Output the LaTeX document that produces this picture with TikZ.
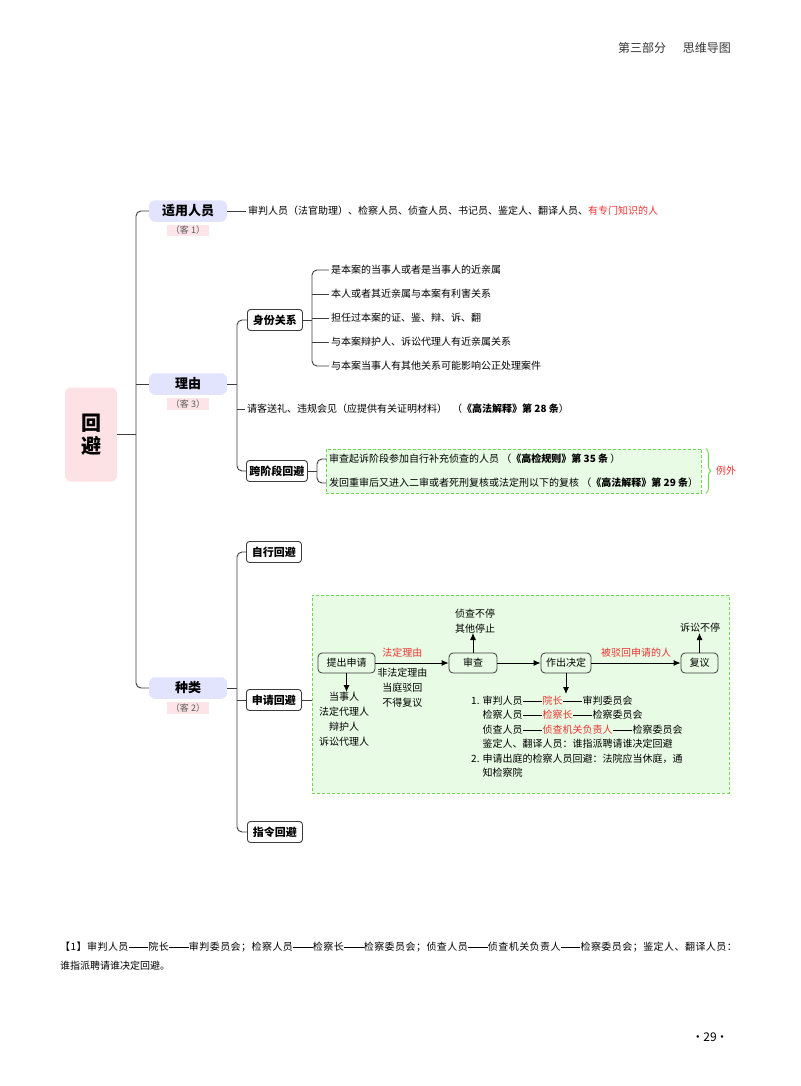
\documentclass[tikz,border=0pt]{standalone}
\usepackage{fontspec}
\setmainfont{Noto Sans CJK SC}
\usepackage{tikz}
\usetikzlibrary{arrows.meta,fit,backgrounds,decorations.pathreplacing}
\definecolor{lvfill}{RGB}{226,227,252}
\definecolor{rootfill}{RGB}{253,226,229}
\definecolor{kefill}{RGB}{253,228,232}
\definecolor{gfill}{RGB}{232,252,229}
\definecolor{gline}{RGB}{110,215,80}
\definecolor{hred}{RGB}{236,52,52}
\definecolor{lnk}{RGB}{60,60,60}
\newcommand\ldash{\makebox[2em]{\rule[0.33em]{1.95em}{0.5pt}}}
\newcommand\mdot{\makebox[0.5em]{·}}

\tikzset{
  root/.style={fill=rootfill, rounded corners=6pt, minimum width=52pt, minimum height=94pt, align=center, font=\fontsize{20}{23.5}\selectfont\bfseries},
  lvone/.style={fill=lvfill, rounded corners=6pt, minimum width=78pt, minimum height=21.5pt, inner sep=0pt, font=\fontsize{13}{15}\selectfont\bfseries},
  kelabel/.style={fill=kefill, inner xsep=4pt, inner ysep=1.5pt, text=black!65, font=\fontsize{9}{10}\selectfont},
  lvtwo/.style={draw=lnk, line width=0.9pt, rounded corners=3pt, fill=white, minimum width=55pt, minimum height=21pt, inner xsep=3pt, font=\fontsize{11}{13}\selectfont\bfseries},
  txt/.style={inner xsep=2pt, inner ysep=0pt, font=\fontsize{10}{15}\selectfont},
  branch/.style={draw=lnk, line width=0.9pt, rounded corners=5pt},
  gbox/.style={draw=gline, fill=gfill, line width=0.9pt, dash pattern=on 3pt off 2pt},
  gbrace/.style={draw=gline, line width=0.9pt, decorate, decoration={brace, amplitude=5pt}},
  flowbox/.style={draw=lnk, line width=0.8pt, rounded corners=4pt, minimum height=20pt, inner xsep=4pt, font=\fontsize{10}{12}\selectfont},
  arr/.style={draw=black, line width=0.9pt, -{Latex[length=7pt,width=6pt]}},
}

\begin{document}
\begin{tikzpicture}[x=1pt,y=1pt]
\useasboundingbox (0,0) rectangle (800,-1086);

% header
\node[txt, anchor=east, font=\fontsize{12}{14}\selectfont, text=black!80] (head) at (733,-48) {第三部分\hspace{1.4em}思维导图};

% root and first level
\node[root] (root) at (91,-434.5) {回\\避};
\node[lvone] (syry) at (188,-211) {适用人员};
\node[kelabel] (syryk) at (188,-230.5) {（客 1）};
\node[lvone] (ly) at (188,-384) {理由};
\node[kelabel] (lyk) at (188,-404) {（客 3）};
\node[lvone] (zl) at (188,-688) {种类};
\node[kelabel] (zlk) at (188,-708) {（客 2）};

\coordinate (t0) at (136,-434.5);
\draw[branch] (root.east) -- (t0);
\draw[branch] (syry.west) -| (t0) |- (zl.west);
\draw[branch] (t0 |- ly.west) -- (ly.west);

% 适用人员
\node[txt, anchor=west] (syryt) at (246,-211) {审判人员（法官助理）、检察人员、侦查人员、书记员、鉴定人、翻译人员、\textcolor{hred}{有专门知识的人}};
\draw[branch] (syry.east) -- (syryt.west);

% 理由
\coordinate (t1) at (237,-384);
\node[lvtwo, anchor=west] (sfgx) at (247,-320) {身份关系};
\node[txt, anchor=west] (qk) at (245,-409) {请客送礼、违规会见（应提供有关证明材料）\hspace{0.5em}（\textbf{《高法解释》第 28 条}）};
\node[lvtwo, anchor=west] (kjd) at (246,-471) {跨阶段回避};
\draw[branch] (ly.east) -- (t1);
\draw[branch] (sfgx.west) -| (t1) |- (kjd.west);
\draw[branch] (t1 |- qk.west) -- (qk.west);

% 身份关系
\coordinate (t2) at (312,-320);
\foreach \t [count=\i] in {是本案的当事人或者是当事人的近亲属, 本人或者其近亲属与本案有利害关系, 担任过本案的证、鉴、辩、诉、翻, 与本案辩护人、诉讼代理人有近亲属关系, 与本案当事人有其他关系可能影响公正处理案件}
  \node[txt, anchor=west] (sf\i) at (329,-246-24*\i) {\t};
\draw[branch] (sfgx.east) -- (t2);
\draw[branch] (sf1.west) -| (t2) |- (sf5.west);
\foreach \i in {2,3,4} \draw[branch] (t2 |- sf\i.west) -- (sf\i.west);

% 跨阶段回避
\node[txt, anchor=west] (kj1) at (327,-459) {审查起诉阶段参加自行补充侦查的人员 （\textbf{《高检规则》第 35 条} ）};
\node[txt, anchor=west] (kj2) at (327,-483) {发回重审后又进入二审或者死刑复核或法定刑以下的复核 （\textbf{《高法解释》第 29 条}）};
\begin{scope}[on background layer]
\node[gbox, inner xsep=1pt, inner ysep=5pt, fit=(kj1)(kj2)] (kjk) {};
\end{scope}
\coordinate (t3) at (317,-471);
\draw[branch] (kjd.east) -- (t3);
\draw[branch] (kj1.west) -| (t3) |- (kj2.west);
\draw[gbrace] ([xshift=4pt]kjk.north east) -- ([xshift=4pt]kjk.south east);
\node[txt, anchor=west, text=hred] (lw) at ([xshift=12pt]kjk.east) {例外};

% 种类
\coordinate (t4) at (237,-688);
\node[lvtwo, anchor=west] (zxhb) at (246,-552) {自行回避};
\node[lvtwo, anchor=west] (sqhb) at (246,-700) {申请回避};
\node[lvtwo, anchor=west] (zlhb) at (247,-832) {指令回避};
\draw[branch] (zl.east) -- (t4);
\draw[branch] (zxhb.west) -| (t4) |- (zlhb.west);
\draw[branch] (t4 |- sqhb.west) -- (sqhb.west);

% 申请回避
\node[gbox, anchor=north west, minimum width=417pt, minimum height=198pt, inner sep=0pt] (sqk) at (312,-595) {};
\draw[branch] (sqhb.east) -- (sqk.west |- sqhb.east);

\node[flowbox, minimum width=57pt] (tcsq) at (346.5,-663) {提出申请};
\node[flowbox, minimum width=48pt] (sc) at (473,-663) {审查};
\node[flowbox, minimum width=50pt] (zcjd) at (566,-663) {作出决定};
\node[flowbox, minimum width=37pt] (fy) at (699.5,-663) {复议};
\draw[arr] (tcsq) -- (sc) node[txt, pos=0.37, above=5pt, text=hred] (fdly) {法定理由}
  node[txt, pos=0.37, below=5pt, align=center] (ffd) {非法定理由\\当庭驳回\\不得复议};
\draw[arr] (sc) -- (zcjd);
\draw[arr] (zcjd) -- (fy) node[txt, midway, above=5pt, text=hred] (bbh) {被驳回申请的人};

\node[txt, anchor=south, align=center] (scup) at (475,-633) {侦查不停\\其他停止};
\draw[arr] (sc.north) -- (sc.north |- scup.south);
\node[txt, anchor=south] (fyup) at (700,-633) {诉讼不停};
\draw[arr] (fy.north) -- (fy.north |- fyup.south);

\node[txt, anchor=north, align=center] (dsr) at (344,-692) {当事人\\法定代理人\\辩护人\\诉讼代理人};
\draw[arr] (tcsq.south) -- (tcsq.south |- dsr.north);

\node[anchor=north west, inner sep=0pt, font=\fontsize{10}{14.5}\selectfont] (lst) at (471,-694) {\begin{tabular}{@{}l@{\hspace{3pt}}l@{}}
1. & 审判人员\ldash\textcolor{hred}{院长}\ldash 审判委员会\\
 & 检察人员\ldash\textcolor{hred}{检察长}\ldash 检察委员会\\
 & 侦查人员\ldash\textcolor{hred}{侦查机关负责人}\ldash 检察委员会\\
 & 鉴定人、翻译人员：谁指派聘请谁决定回避\\
2. & 申请出庭的检察人员回避：法院应当休庭，通\\
 & 知检察院
\end{tabular}};
\draw[arr] (zcjd.south) -- (zcjd.south |- lst.north);

% footnote and page
\node[txt, anchor=west, font=\fontsize{10}{15}\selectfont\addfontfeature{LetterSpace=4.5}] (fn1) at (58,-947) {【1】审判人员\ldash 院长\ldash 审判委员会；检察人员\ldash 检察长\ldash 检察委员会；侦查人员\ldash 侦查机关负责人\ldash 检察委员会；鉴定人、翻译人员：};
\node[txt, anchor=west] (fn2) at (58,-966) {谁指派聘请谁决定回避。};
\node[txt, font=\fontsize{12}{14}\selectfont] (pg) at (710,-1037) {\mdot\hspace{2.5pt}29\hspace{2.5pt}\mdot};
\end{tikzpicture}
\end{document}
